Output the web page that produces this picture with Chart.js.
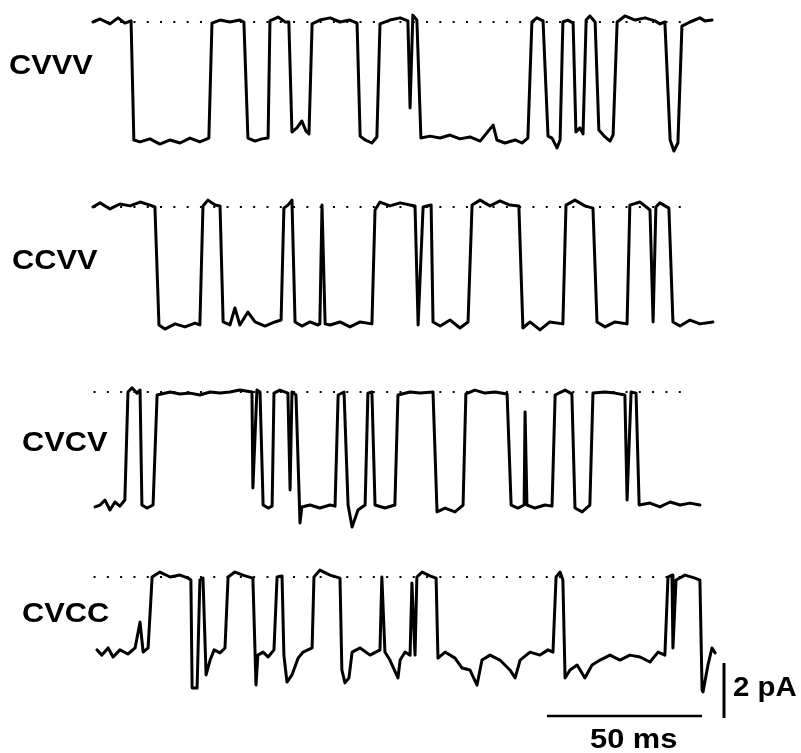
<!DOCTYPE html>
<html>
<head>
<meta charset="utf-8">
<script src="https://cdn.jsdelivr.net/npm/chart.js@4.4.1/dist/chart.umd.min.js"></script>
<style>
  html, body { margin: 0; padding: 0; background: #fff; }
  #wrap { position: relative; width: 801px; height: 753px; }
  #traces { position: absolute; left: 0; top: 0; }
  .lbl {
    position: absolute;
    font: bold 28px "Liberation Sans", Arial, sans-serif;
    line-height: 1;
    color: #000;
    white-space: nowrap;
    transform-origin: left top;
  }
</style>
</head>
<body>
<div id="wrap">
  <canvas id="traces" width="801" height="753"></canvas>
</div>
<script>
// single-channel records, time in ms from the start of each sweep, current in pA
// relative to the closed level (openings go down)
const traceNames = ['CVVV', 'CCVV', 'CVCV', 'CVCC'];

const cvvv = [
  [0.3,0],[2.6,0.11],[5.8,-0.07],[8.4,0.15],[10.6,-0.04],[12.6,0.04],
  [13.5,-4.29],[15.5,-4.36],[18.7,-4.25],[21.9,-4.44],[25.2,-4.29],[28.4,-4.40],[31.6,-4.22],[34.8,-4.36],[37.1,-4.25],[37.7,-4.22],
  [38.7,-0.04],[41.3,0.07],[44.5,0],[47.7,0.07],[49.0,0],
  [50.3,-4.22],[52.6,-4.33],[54.8,-4.25],[56.8,-4.22],
  [57.4,0.04],[60.0,0.18],[62.3,0],[63.5,0],
  [64.5,-4.0],[66.1,-3.85],[67.7,-3.6],[69.0,-3.96],[70.0,-4.07],
  [71.0,-0.07],[73.5,0.07],[76.8,0.15],[80.0,0],[83.2,0.07],[85.5,-0.04],
  [86.5,-4.15],[88.1,-4.29],[90.3,-4.40],[91.9,-4.18],
  [92.9,-0.07],[96.1,0.07],[99.4,0.15],[101.9,0.04],[102.6,-3.13],[103.5,0.25],[104.8,0.07],
  [106.1,-4.22],[109.0,-4.15],[112.3,-4.22],[115.5,-4.11],[118.7,-4.25],[121.9,-4.18],[125.2,-4.33],[129.4,-3.75],[130.6,-4.29],[133.2,-4.40],[136.5,-4.29],[138.7,-4.40],[140.6,-4.22],
  [141.9,0],[143.5,0.15],[145.5,0.04],
  [147.1,-4.15],[148.4,-4.22],[150.0,-4.58],[151.0,-4.29],
  [151.9,0],[153.5,0.07],[155.2,-0.04],
  [156.1,-4.0],[157.4,-3.85],[158.4,-4.07],
  [159.4,0.07],[160.6,0.22],[162.3,0],
  [163.5,-3.93],[165.5,-4.18],[167.1,-4.33],[168.1,-4.11],
  [169.4,0],[171.9,0.22],[175.2,0.07],[178.4,0.15],[181.6,0.04],[183.2,-0.07],[184.8,0],
  [186.5,-4.29],[187.7,-4.69],[189.0,-4.40],
  [190.3,-0.15],[192.9,0],[196.1,0.15],[197.7,0.04],[200.0,0.07]
];

const ccvv = [
  [0.3,0],[2.6,0.15],[5.8,-0.07],[9.0,0.11],[12.3,0.04],[15.5,0.18],[18.7,0.07],[20.3,0],
  [21.6,-4.29],[23.5,-4.44],[26.8,-4.25],[30.0,-4.36],[33.2,-4.22],[34.8,-4.29],
  [35.8,0.04],[37.4,0.25],[39.7,0.07],[41.3,0.04],
  [42.3,-4.18],[44.5,-4.29],[46.1,-3.67],[47.7,-4.29],[50.3,-3.82],[52.6,-4.18],[55.8,-4.33],[59.0,-4.18],[61.0,-4.11],
  [61.9,-0.04],[63.2,0.07],[64.5,0.25],
  [65.5,-4.18],[67.7,-4.33],[70.3,-4.18],[72.9,-4.29],[73.5,-4.25],[74.2,0.07],[75.2,-4.25],
  [76.8,-4.29],[80.0,-4.18],[83.2,-4.36],[86.5,-4.18],[90.3,-4.25],
  [91.3,-0.11],[92.9,0.18],[96.1,0.04],[99.4,0.15],[102.6,0.07],[104.2,0.04],
  [105.2,-4.29],[106.8,0],[109.4,0.07],
  [110.0,-4.18],[112.3,-4.33],[115.5,-4.11],[118.7,-4.40],[121.3,-4.18],
  [122.6,0.07],[125.2,0.25],[128.4,0.04],[131.6,0.22],[134.8,0.07],[137.7,0.04],
  [139.0,-4.40],[141.3,-4.18],[144.5,-4.47],[147.7,-4.18],[151.9,-4.25],
  [152.9,0.07],[155.8,0.25],[159.0,0.04],[161.6,-0.04],
  [162.9,-4.18],[165.5,-4.36],[168.7,-4.18],[172.6,-4.25],
  [173.5,0.07],[176.8,0.18],[180.0,-0.11],[181.0,-4.18],[181.9,0],[183.2,0.15],[186.1,-0.04],
  [187.4,-4.18],[189.7,-4.33],[192.9,-4.11],[196.1,-4.25],[200.3,-4.18]
];

const cvcv = [
  [1.0,-4.18],[2.6,-4.11],[4.2,-3.93],[5.8,-4.29],[7.4,-4.0],[9.0,-4.15],[10.6,-3.93],
  [11.6,0],[12.9,0.15],[14.5,-0.04],[15.5,0.07],
  [16.1,-4.11],[17.7,-4.22],[19.7,-4.11],
  [21.0,-0.11],[25.2,0],[28.4,-0.07],[31.6,-0.04],[34.8,-0.11],[38.1,0],[41.3,-0.04],[44.5,0],[47.7,0.07],[51.6,0],
  [51.9,-3.49],[53.2,0.07],[54.2,0],
  [55.2,-4.11],[56.8,-4.22],[58.1,-4.15],
  [58.7,-0.04],[60.6,0.07],[63.2,-0.04],[63.9,-3.56],[64.5,0],[65.8,-0.11],
  [67.1,-4.76],[67.7,-4.18],[70.3,-4.11],[73.5,-4.22],[76.8,-4.11],[78.4,-4.15],
  [79.4,-0.11],[81.3,0],
  [82.6,-4.11],[83.9,-4.91],[85.8,-4.29],[88.1,-4.11],
  [89.0,-0.04],[90.3,0],
  [91.3,-4.11],[94.5,-4.22],[97.7,-4.11],
  [98.7,-0.11],[102.6,0],[105.8,-0.04],[110.0,0],
  [111.3,-4.36],[113.9,-4.22],[117.1,-4.36],[119.7,-4.11],
  [120.6,-0.07],[123.5,0.07],[126.8,-0.04],[130.0,0],[133.9,-0.07],
  [135.2,-4.11],[137.4,-4.22],[139.4,-4.11],[139.7,-0.73],[140.3,-4.11],[142.9,-4.22],[146.1,-4.11],[148.4,-4.15],
  [149.4,-0.11],[152.6,0.07],[154.8,-0.07],
  [155.8,-4.22],[158.1,-4.36],[160.6,-4.11],
  [161.6,-0.04],[165.5,0],[168.7,-0.04],[171.9,-0.11],[172.6,-3.93],[173.9,0],[175.5,-0.04],
  [176.5,-4.11],[180.0,-4.04],[183.2,-4.18],[186.5,-4.0],[189.7,-4.11],[192.9,-4.04],[196.1,-4.11]
];

const cvcc = [
  [1.6,-2.65],[3.2,-2.84],[5.2,-2.58],[6.8,-2.91],[9.0,-2.65],[11.6,-2.8],[13.9,-2.58],[15.5,-1.64],[16.5,-2.73],[18.1,-2.58],
  [19.4,0],[21.9,0.18],[25.2,0],[28.4,0.07],[31.0,-0.04],[31.9,-0.11],
  [32.3,-4.04],[33.9,-4.04],[34.8,-0.11],[35.8,-0.04],
  [36.8,-3.56],[38.1,-3.02],[39.4,-2.65],[41.3,-2.76],[42.9,-2.58],
  [43.9,0],[46.1,0.18],[49.4,0.04],[51.9,-0.04],
  [52.9,-3.93],[53.5,-2.84],[55.2,-2.73],[56.8,-2.91],[58.7,-2.65],
  [59.7,0],[61.3,0.04],
  [61.9,-2.84],[62.9,-3.82],[64.5,-3.56],[66.5,-2.95],[68.1,-2.73],[71.0,-2.58],
  [71.6,0],[73.5,0.25],[76.8,0.07],[80.0,-0.04],
  [80.6,-3.38],[81.6,-3.85],[82.9,-3.67],[83.9,-2.73],[86.5,-2.58],[89.7,-2.84],[92.9,-2.65],
  [93.5,0],[94.5,-2.73],[96.1,-3.02],[98.7,-3.67],[99.4,-3.02],[101.0,-2.73],[102.6,-2.84],
  [103.2,-0.22],[104.2,-2.84],
  [104.8,0],[106.5,0.18],[109.0,0.04],[111.0,-0.04],
  [111.6,-2.95],[113.9,-2.73],[117.1,-2.95],[119.4,-3.31],[121.9,-3.38],[124.2,-3.93],[125.8,-3.02],[128.4,-2.84],
  [131.6,-3.02],[134.8,-3.38],[136.5,-3.67],[138.1,-3.02],[141.3,-2.73],[144.5,-2.84],[147.1,-2.65],[148.7,-2.73],
  [149.7,0],[151.0,0.18],[151.9,-0.11],
  [152.6,-3.67],[154.2,-3.38],[156.5,-3.2],[159.0,-3.67],[161.3,-3.2],[163.9,-3.02],[167.1,-2.84],[170.3,-3.02],
  [173.5,-2.84],[176.8,-2.91],[180.0,-3.09],[182.6,-2.73],[184.8,-2.84],
  [185.8,0],[187.1,0.07],[187.4,-2.58],[188.4,-0.11],[191.3,0.07],[194.5,-0.04],[196.1,-0.11],
  [196.8,-4.11],[197.1,-4.18],[198.7,-3.2],[200.0,-2.58],[201.0,-2.76]
];

const sweeps = [cvvv, ccvv, cvcv, cvcc];
const closedLevel = 0;          // pA, the dotted line
const dottedSpan = [0.5, 190];  // ms
const barMs = 50;
const barPA = 2;

// layout (pixels)
const W = 801, H = 753;
const PX_PER_MS = 3.1, PX_PER_PA = 27.5;
const sweepLeft = 92;
const sweepTop = [22, 207, 392, 577];
const labelPos = [[9, 51], [12, 246], [22, 428], [22, 599]];

const xMin = -sweepLeft / PX_PER_MS;
const xMax = xMin + W / PX_PER_MS;
const yMax = 0;
const yMin = -H / PX_PER_PA;

const datasets = [];
sweeps.forEach((sw, k) => {
  const off = -sweepTop[k] / PX_PER_PA;
  datasets.push({
    label: traceNames[k],
    data: sw.map(p => ({ x: p[0], y: p[1] + off })),
    borderColor: '#000',
    borderWidth: 3,
    borderJoinStyle: 'round',
    borderCapStyle: 'round',
    showLine: true,
    pointRadius: 0,
    tension: 0
  });
});
sweeps.forEach((sw, k) => {
  const off = -sweepTop[k] / PX_PER_PA;
  datasets.push({
    label: traceNames[k] + ' closed',
    data: dottedSpan.map(t => ({ x: t, y: closedLevel + off })),
    borderColor: '#000',
    borderWidth: 2,
    borderDash: [2, 11.3],
    showLine: true,
    pointRadius: 0
  });
});

const scaleBars = {
  id: 'scaleBars',
  afterDatasetsDraw(chart) {
    const { ctx, scales } = chart;
    const lenX = scales.x.getPixelForValue(barMs) - scales.x.getPixelForValue(0);
    const lenY = scales.y.getPixelForValue(0) - scales.y.getPixelForValue(barPA);
    ctx.save();
    ctx.strokeStyle = '#000';
    ctx.lineWidth = 2.5;
    ctx.beginPath();
    ctx.moveTo(547, 716);
    ctx.lineTo(547 + lenX, 716);
    ctx.stroke();
    ctx.lineWidth = 3;
    ctx.beginPath();
    ctx.moveTo(724, 718);
    ctx.lineTo(724, 718 - lenY);
    ctx.stroke();
    ctx.restore();
  }
};

new Chart(document.getElementById('traces'), {
  type: 'scatter',
  data: { datasets: datasets },
  options: {
    responsive: false,
    animation: false,
    events: [],
    layout: { padding: 0 },
    plugins: { legend: { display: false }, tooltip: { enabled: false } },
    scales: {
      x: { type: 'linear', display: false, min: xMin, max: xMax },
      y: { type: 'linear', display: false, min: yMin, max: yMax }
    }
  },
  plugins: [scaleBars]
});

// text labels
const wrap = document.getElementById('wrap');
function addLabel(text, left, top, sx) {
  const d = document.createElement('div');
  d.className = 'lbl';
  d.textContent = text;
  d.style.left = left + 'px';
  d.style.top = top + 'px';
  d.style.transform = 'scaleX(' + sx + ')';
  wrap.appendChild(d);
}
traceNames.forEach((n, k) => addLabel(n, labelPos[k][0], labelPos[k][1], 1.1));
addLabel(barPA + ' pA', 733, 673, 1.05);
addLabel(barMs + ' ms', 590, 725, 1.1);
</script>
</body>
</html>
